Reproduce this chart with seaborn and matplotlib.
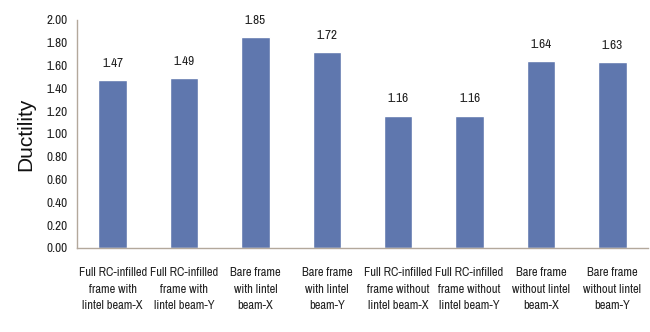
import matplotlib
matplotlib.use("Agg")
import matplotlib.pyplot as plt
import seaborn as sns
import pandas as pd
from matplotlib import font_manager

categories = [
    "Full RC-infilled\nframe with\nlintel beam-X",
    "Full RC-infilled\nframe with\nlintel beam-Y",
    "Bare frame\nwith lintel\nbeam-X",
    "Bare frame\nwith lintel\nbeam-Y",
    "Full RC-infilled\nframe without\nlintel beam-X",
    "Full RC-infilled\nframe without\nlintel beam-Y",
    "Bare frame\nwithout lintel\nbeam-X",
    "Bare frame\nwithout lintel\nbeam-Y",
]
ductility = [1.47, 1.49, 1.85, 1.72, 1.16, 1.16, 1.64, 1.63]
y_ticks = [0.0, 0.2, 0.4, 0.6, 0.8, 1.0, 1.2, 1.4, 1.6, 1.8, 2.0]

sns.set_theme(style="white")

# Pick a narrow face for the small labels if one is installed
entries = font_manager.fontManager.ttflist
narrow_names = sorted({f.name for f in entries
                       if "Narrow" in f.name or "Condensed" in f.name})
if narrow_names:
    small_font = dict(family=[narrow_names[0], "DejaVu Sans"], stretch="normal")
else:
    small_font = dict(family=["DejaVu Sans"], stretch="condensed")

plt.rcParams["font.family"] = small_font["family"]
plt.rcParams["font.stretch"] = small_font["stretch"]

df = pd.DataFrame({"case": categories, "ductility": ductility})

fig = plt.figure(figsize=(6.5, 3.32), dpi=100)
ax = fig.add_axes([77 / 650, 1 - 248 / 332, 571 / 650, 228 / 332])
sns.barplot(data=df, x="case", y="ductility", color="#5f77ae", width=0.4,
            saturation=1, ax=ax)

ax.set_ylim(0, 2.0)
ax.set_xlim(-0.5, len(categories) - 0.5)
ax.set_yticks(y_ticks)
ax.set_yticklabels([f"{v:.2f}" for v in y_ticks], fontsize=9.5, color="#222222")
ax.tick_params(axis="y", length=0, pad=7)
ax.tick_params(axis="x", length=0, pad=14)
ax.set_xticks(range(len(categories)))
ax.set_xticklabels(categories, fontsize=9, color="#222222", linespacing=1.6)
ax.set_xlabel("")
ax.set_ylabel("Ductility", fontsize=15, family=["Liberation Sans", "DejaVu Sans"],
              stretch="normal", labelpad=8, color="#111111")

for side in ["top", "right"]:
    ax.spines[side].set_visible(False)
for side in ["left", "bottom"]:
    ax.spines[side].set_color("#b3a89c")
    ax.spines[side].set_linewidth(1.0)

for i, v in enumerate(ductility):
    ax.text(i, v + 0.1, f"{v:.2f}", ha="center", va="bottom", fontsize=9.5,
            color="#222222")

fig.savefig("out.png", dpi=100)
